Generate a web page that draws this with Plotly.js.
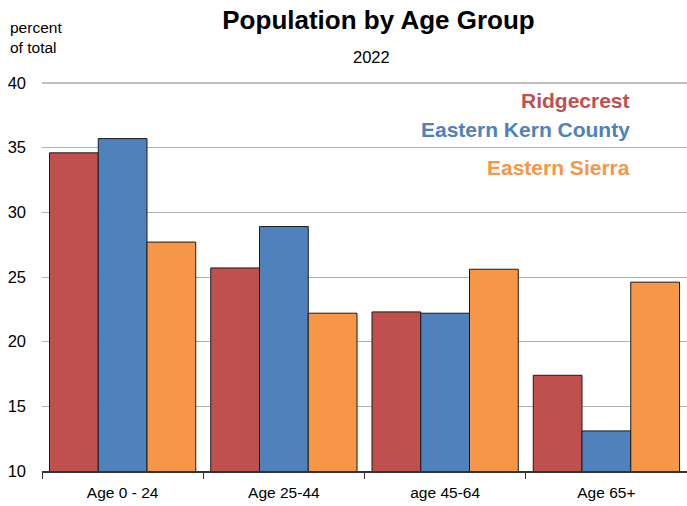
<!DOCTYPE html>
<html>
<head>
<meta charset="utf-8">
<script src="https://cdn.plot.ly/plotly-3.0.1.min.js"></script>
<style>html,body{margin:0;padding:0;background:#fff;}#chart{width:687px;height:506px;}</style>
</head>
<body>
<div id="chart"></div>
<script>
const categories = ["Age 0 - 24", "Age 25-44", "age 45-64", "Age 65+"];
const seriesNames = ["Ridgecrest", "Eastern Kern County", "Eastern Sierra"];
const ridgecrest = [34.6, 25.7, 22.3, 17.4];
const easternKern = [35.7, 28.9, 22.2, 13.1];
const easternSierra = [27.7, 22.2, 25.6, 24.6];
const colors = ["#C0504D", "#4F81BD", "#F79646"];
const yTicks = [10, 15, 20, 25, 30, 35, 40];

const SANS = "'Liberation Sans', Arial, sans-serif";

const values = [ridgecrest, easternKern, easternSierra];
const traces = values.map((v, i) => ({
  type: "bar",
  name: seriesNames[i],
  x: categories,
  y: v,
  marker: { color: colors[i], line: { color: "#1a1a1a", width: 1 } },
  hoverinfo: "x+y+name"
}));

const legendY = [0.954, 0.879, 0.783];
const annotations = seriesNames.map((n, i) => ({
  text: "<b>" + n + "</b>",
  xref: "paper", yref: "paper",
  x: 0.915, y: legendY[i],
  xanchor: "right", yanchor: "middle",
  showarrow: false,
  font: { family: SANS, size: 21, color: colors[i] }
}));
annotations.push({
  text: "2022",
  xref: "paper", yref: "paper",
  x: 0.511, y: 1.067, xanchor: "center", yanchor: "middle",
  showarrow: false,
  font: { family: SANS, size: 16.5, color: "#000" }
});
annotations.push({
  text: "percent<br>of total",
  xref: "paper", yref: "paper",
  x: -0.0527, y: 1.118, xanchor: "left", yanchor: "middle", align: "left",
  showarrow: false,
  font: { family: SANS, size: 15.5, color: "#000" }
});

const layout = {
  width: 687, height: 506,
  margin: { l: 42, r: 0, t: 83, b: 35, pad: 0 },
  paper_bgcolor: "#fff", plot_bgcolor: "#fff",
  showlegend: false,
  barmode: "group",
  bargap: 0.093,
  bargroupgap: 0,
  title: {
    text: "<b>Population by Age Group</b>",
    font: { family: SANS, size: 26, color: "#000" },
    xref: "container", x: 0.551, xanchor: "center",
    yref: "container", y: 0.978, yanchor: "top"
  },
  xaxis: {
    type: "category",
    tickson: "boundaries",
    ticks: "outside", ticklen: 6, tickcolor: "#333", tickwidth: 1,
    showline: true, linecolor: "#333", linewidth: 1.5,
    showgrid: false,
    ticklabelstandoff: 7,
    tickfont: { family: SANS, size: 15.5, color: "#000" },
    range: [-0.5, 3.5], fixedrange: true
  },
  yaxis: {
    range: [10, 40],
    tickvals: yTicks,
    ticktext: yTicks.map(String),
    showgrid: true, gridcolor: "#b3b3b3", gridwidth: 1,
    zeroline: false, showline: false, ticks: "",
    ticklabelstandoff: 15,
    tickfont: { family: SANS, size: 16.5, color: "#000" },
    fixedrange: true
  },
  shapes: [{
    type: "line", xref: "paper", yref: "paper",
    x0: 0, x1: 1, y0: 1, y1: 1,
    line: { color: "#808080", width: 1.2 }
  }],
  annotations: annotations
};

Plotly.newPlot("chart", traces, layout, { staticPlot: true, displayModeBar: false });
</script>
</body>
</html>
